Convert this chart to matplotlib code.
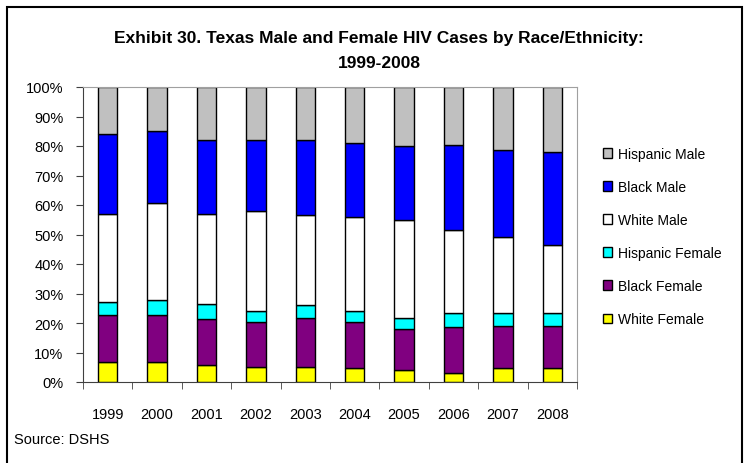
import numpy as np
import matplotlib
matplotlib.use("Agg")
import matplotlib.pyplot as plt
from matplotlib.patches import Rectangle, Patch

plt.rcParams["font.family"] = ["Liberation Sans Narrow", "Liberation Sans", "DejaVu Sans"]

# Percent share of HIV cases
years = ["1999", "2000", "2001", "2002", "2003", "2004", "2005", "2006", "2007", "2008"]
white_female = [6.8, 6.8, 5.9, 5.2, 5.2, 4.7, 4.2, 3.0, 4.6, 4.6]
black_female = [15.9, 15.9, 15.4, 15.0, 16.6, 15.5, 13.8, 15.6, 14.5, 14.5]
hispanic_female = [4.5, 5.1, 5.2, 3.8, 4.3, 3.8, 3.7, 4.7, 4.2, 4.2]
white_male = [29.7, 32.8, 30.4, 34.0, 30.4, 31.9, 33.1, 28.3, 25.7, 23.1]
black_male = [27.3, 24.6, 25.1, 24.0, 25.5, 25.2, 25.1, 28.9, 29.8, 31.5]
hispanic_male = [15.8, 14.8, 18.0, 18.0, 18.0, 18.9, 20.1, 19.5, 21.2, 22.1]

series = [
    ("White Female", white_female, "#FFFF00"),
    ("Black Female", black_female, "#800080"),
    ("Hispanic Female", hispanic_female, "#00FFFF"),
    ("White Male", white_male, "#FFFFFF"),
    ("Black Male", black_male, "#0000FF"),
    ("Hispanic Male", hispanic_male, "#C0C0C0"),
]

fig = plt.figure(figsize=(7.49, 4.64), dpi=100)
ax = fig.add_axes([83 / 749, 1 - 383 / 464, 494 / 749, 295 / 464])

x = np.arange(len(years))
bottom = np.zeros(len(years))
handles = []
for name, vals, color in series:
    vals = np.array(vals)
    ax.bar(x, vals, width=0.39, bottom=bottom, color=color,
           edgecolor="black", linewidth=1.0)
    bottom += vals
    handles.append(Patch(facecolor=color, edgecolor="black", linewidth=1.0, label=name))

ax.set_xlim(-0.5, len(years) - 0.5)
ax.set_ylim(0, 100)
ax.set_yticks(np.arange(0, 101, 10))
ax.set_yticklabels([f"{v}%" for v in range(0, 101, 10)], fontsize=10.5)
ax.tick_params(axis="y", direction="out", length=5, color="#404040", pad=9)

ax.set_xticks(x)
ax.set_xticklabels(years, fontsize=10.5)
ax.tick_params(axis="x", which="major", length=0, pad=18)
ax.set_xticks(np.arange(-0.5, len(years), 1.0), minor=True)
ax.tick_params(axis="x", which="minor", direction="out", length=5, color="#404040")

for side in ["left", "bottom"]:
    ax.spines[side].set_color("#404040")
for side in ["top", "right"]:
    ax.spines[side].set_color("#A0A0A0")

fig.text(0.506, 1 - 38 / 464, "Exhibit 30. Texas Male and Female HIV Cases by Race/Ethnicity:",
         ha="center", va="center", fontsize=12.5, fontweight="bold")
fig.text(0.506, 1 - 63 / 464, "1999-2008",
         ha="center", va="center", fontsize=12.5, fontweight="bold")
fig.text(14 / 749, 1 - 440 / 464, "Source: DSHS", ha="left", va="center", fontsize=10.5)

fig.legend(handles=handles[::-1], loc="upper left",
           bbox_to_anchor=(590 / 749, 1 - 135 / 464), frameon=False,
           fontsize=10, handlelength=0.7, handleheight=0.7,
           handletextpad=0.4, labelspacing=1.38)

fig.patches.append(Rectangle((7 / 749, -0.05), 735 / 749, 1.05 - 8 / 464,
                             transform=fig.transFigure, fill=False,
                             edgecolor="black", linewidth=1.5))

fig.savefig("out.png", dpi=100)
